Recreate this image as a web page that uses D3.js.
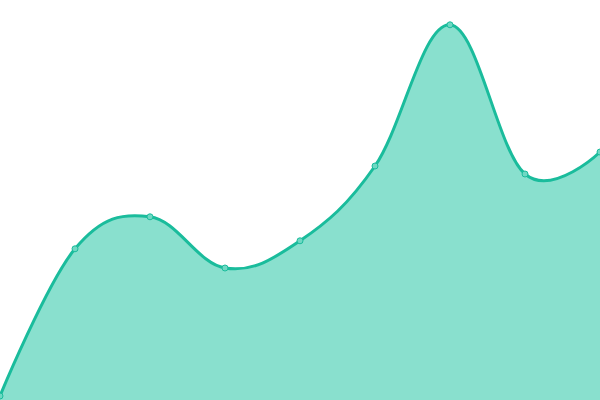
<!DOCTYPE html>
<html>
<head>
<meta charset="utf-8">
<script src="https://cdn.jsdelivr.net/npm/d3@7"></script>
<style>
  html, body { margin: 0; padding: 0; background: #fff; }
  svg { display: block; }
</style>
</head>
<body>
<svg class="chart"></svg>
<script>
// chart values
var labels = ["1", "2", "3", "4", "5", "6", "7", "8", "9"];
var values = [1, 37.8, 45.8, 33, 39.8, 58.5, 93.8, 56.5, 62];

(function () {
    'use strict';

    var width = 600, height = 400;

    var svg = d3.select(".chart")
        .attr("width", width)
        .attr("height", height);

    var x = d3.scalePoint().domain(labels).range([0, width]);
    var y = d3.scaleLinear().domain([0, 100]).range([height, 0]);

    var data = labels.map(function (l, i) { return {label: l, value: values[i]}; });

    var curve = d3.curveCardinal.tension(-0.1);

    var area = d3.area()
        .x(function (d) { return x(d.label); })
        .y0(height)
        .y1(function (d) { return y(d.value); })
        .curve(curve);

    var line = d3.line()
        .x(function (d) { return x(d.label); })
        .y(function (d) { return y(d.value); })
        .curve(curve);

    svg.append("path")
        .datum(data)
        .attr("d", area)
        .attr("fill", "#89e0ce");

    svg.append("path")
        .datum(data)
        .attr("d", line)
        .attr("fill", "none")
        .attr("stroke", "#1abc9c")
        .attr("stroke-width", 3);

    svg.selectAll(".dot")
        .data(data)
        .enter().append("circle")
        .attr("class", "dot")
        .attr("cx", function (d) { return x(d.label); })
        .attr("cy", function (d) { return y(d.value); })
        .attr("r", 3)
        .attr("fill", "#6fd8c3")
        .attr("stroke", "#1abc9c")
        .attr("stroke-width", 1);
})();
</script>
</body>
</html>
